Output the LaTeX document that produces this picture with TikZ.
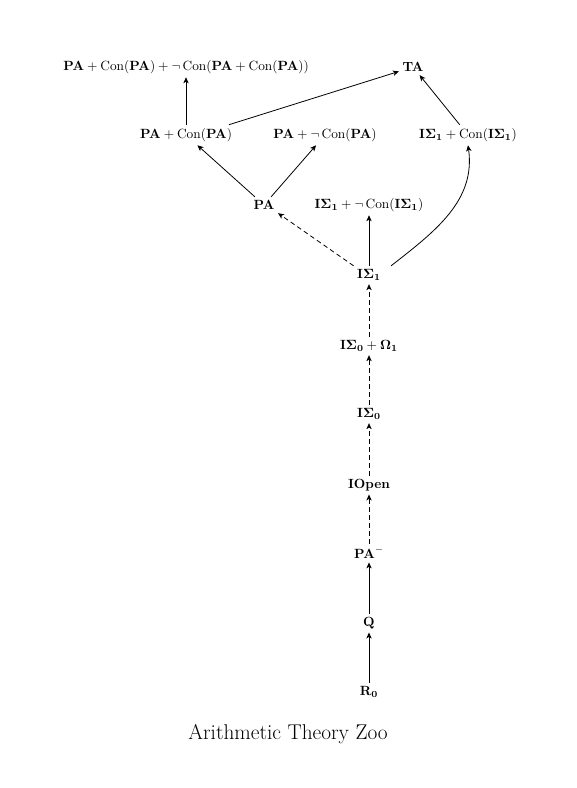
\documentclass[tikz,border=0pt]{standalone}
\usepackage{amsmath}
\usetikzlibrary{arrows.meta}
\begin{document}
\begin{tikzpicture}[x=0.75pt,y=-0.75pt,
  th/.style={inner sep=2.5pt},
  imp/.style={-{Stealth[length=4.5pt,width=4pt,inset=1.2pt]},line width=0.6pt},
  dimp/.style={imp,dash pattern=on 3.5pt off 2.5pt}]
\useasboundingbox (0,0) rectangle (576,788);
\node[th] (top) at (186,67) {$\mathbf{PA}+\operatorname{Con}(\mathbf{PA})+\neg\operatorname{Con}(\mathbf{PA}+\operatorname{Con}(\mathbf{PA}))$};
\node[th] (ta) at (413,67) {$\mathbf{TA}$};
\node[th] (pacon) at (186,135) {$\mathbf{PA}+\operatorname{Con}(\mathbf{PA})$};
\node[th] (panotcon) at (325,135) {$\mathbf{PA}+\neg\operatorname{Con}(\mathbf{PA})$};
\node[th] (iscon) at (468,135) {$\mathbf{I\Sigma_1}+\operatorname{Con}(\mathbf{I\Sigma_1})$};
\node[th] (pa) at (264,205) {$\mathbf{PA}$};
\node[th] (isnotcon) at (369,205) {$\mathbf{I\Sigma_1}+\neg\operatorname{Con}(\mathbf{I\Sigma_1})$};
\node[th] (isone) at (369,275) {$\mathbf{I\Sigma_1}$};
\node[th] (isomega) at (369,346) {$\mathbf{I\Sigma_0}+\mathbf{\Omega_1}$};
\node[th] (iszero) at (369,414) {$\mathbf{I\Sigma_0}$};
\node[th] (iopen) at (369,485) {$\mathbf{IOpen}$};
\node[th] (paminus) at (369,553) {$\mathbf{PA}^-$};
\node[th] (q) at (369,623) {$\mathbf{Q}$};
\node[th] (rzero) at (369,692) {$\mathbf{R_0}$};
\node (cap) at (288,734) {\fontsize{16}{19}\selectfont Arithmetic Theory Zoo};
\draw[imp] (rzero) -- (q);
\draw[imp] (q) -- (paminus);
\draw[dimp] (paminus) -- (iopen);
\draw[dimp] (iopen) -- (iszero);
\draw[dimp] (iszero) -- (isomega);
\draw[dimp] (isomega) -- (isone);
\draw[imp] (isone) -- (isnotcon);
\draw[dimp] (isone.north west) -- (pa.south east);
\draw[imp] ([xshift=5pt]isone.north east) to[out=38,in=-82] (iscon.south);
\draw[imp] (pa) -- (pacon);
\draw[imp] (pa) -- (panotcon);
\draw[imp] (pacon) -- (top);
\draw[imp] ([xshift=-5pt]pacon.north east) -- (ta);
\draw[imp] (iscon) -- (ta);
\end{tikzpicture}
\end{document}
